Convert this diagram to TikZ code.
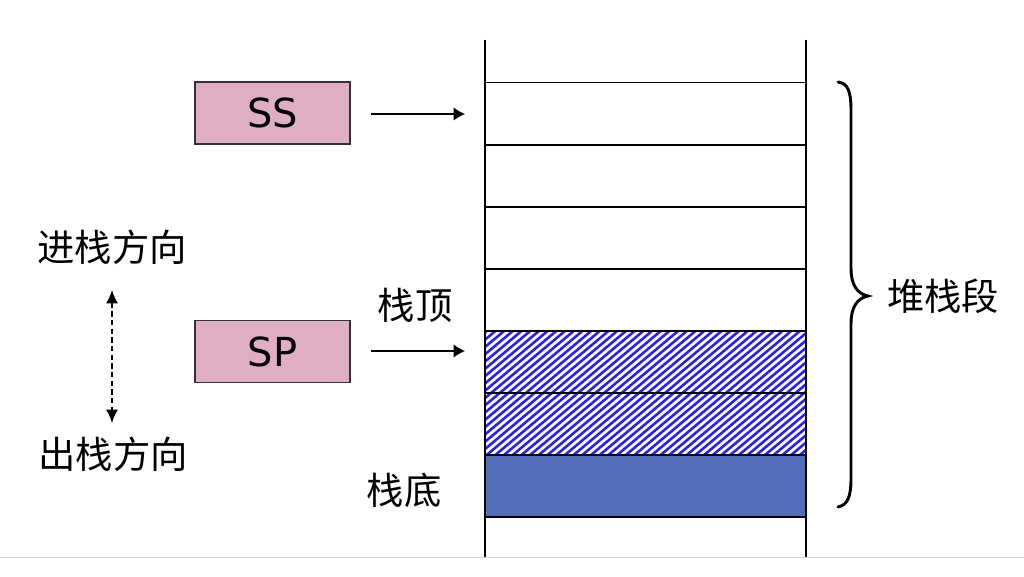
\documentclass[tikz,border=0pt]{standalone}
\usepackage{fontspec}
\setsansfont{DejaVu Sans}
\newfontfamily\cjk{Noto Sans CJK SC}
\usetikzlibrary{arrows.meta}
\definecolor{regpink}{RGB}{224,174,196}
\definecolor{stackblue}{RGB}{82,110,185}
\definecolor{hatchblue}{RGB}{40,30,240}
\tikzset{
  reg/.style={draw=black!80, line width=1.2pt, fill=regpink, minimum width=116.25pt, minimum height=46.5pt, inner sep=0pt, font=\sffamily\fontsize{30}{32}\selectfont},
  cell/.style={draw=black, line width=1.1pt, minimum width=240.75pt, minimum height=46.5pt, inner sep=0pt},
  solidcell/.style={cell, fill=stackblue},
  hatchline/.style={hatchblue, line width=1.9pt},
  ptr/.style={-{Latex[length=8.5pt,width=10pt]}, line width=1pt},
  lbl/.style={font=\cjk\fontsize{28}{30}\selectfont, inner sep=0pt},
}
\begin{document}
\begin{tikzpicture}[x=0.75pt,y=-0.75pt]
\useasboundingbox (0,0) rectangle (1024,577);
\fill[white] (0,0) rectangle (1024,577);
% hatching of the two occupied cells
\begin{scope}
  \clip (485,331) rectangle (806,455);
  \foreach \i in {0,...,58} {
    \draw[hatchline] (330+\i*8.7,455) -- (478+\i*8.7,331);
  }
\end{scope}
% stack cells
\node[cell] (c1) at (645.5,113.5) {};
\node[cell] (c2) at (645.5,176) {};
\node[cell] (c3) at (645.5,238) {};
\node[cell] (c4) at (645.5,300) {};
\node[cell] (c5) at (645.5,362) {};
\node[cell] (c6) at (645.5,424) {};
\node[solidcell] (c7) at (645.5,486) {};
% rails
\coordinate (ltop) at (485,40);
\coordinate (lbot) at (485,557);
\coordinate (rtop) at (806,40);
\coordinate (rbot) at (806,557);
\draw[line width=1.1pt] (ltop) -- (lbot);
\draw[line width=1.1pt] (rtop) -- (rbot);
\draw[line width=1.1pt] (c7.south west) -- (c7.south east);
% bottom gray line
\coordinate (gl) at (0,557.5);
\coordinate (gr) at (1024,557.5);
\draw[black!18, line width=1pt] (gl) -- (gr);
% registers
\node[reg] (ss) at (272.5,113) {SS};
\node[reg] (sp) at (272.5,351.5) {SP};
\coordinate (ssa) at (371,114);
\coordinate (ssb) at (465,114);
\coordinate (spa) at (371,351);
\coordinate (spb) at (465,351);
\draw[ptr] (ssa) -- (ssb);
\draw[ptr] (spa) -- (spb);
% labels
\node[lbl] (top) at (415,305) {栈顶};
\node[lbl] (bot) at (404,490) {栈底};
\node[lbl] (push) at (112,247) {进栈方向};
\node[lbl] (pop) at (113,454) {出栈方向};
\node[lbl] (seg) at (943,296) {堆栈段};
% direction arrow
\coordinate (da) at (112,290);
\coordinate (db) at (112,423);
\draw[{Latex[length=10pt,width=9pt]}-{Latex[length=10pt,width=9pt]}, line width=1.1pt, dash pattern=on 4pt off 2.5pt] (da) -- (db);
% brace
\draw[line width=2.2pt, line cap=round]
  (838,82) .. controls (848,83) and (851,92) .. (851,110)
  -- (851,268) .. controls (851,286) and (858,294) .. (868,296)
  .. controls (858,298) and (851,306) .. (851,324)
  -- (851,478) .. controls (851,496) and (848,505) .. (838,507);
\end{tikzpicture}
\end{document}
